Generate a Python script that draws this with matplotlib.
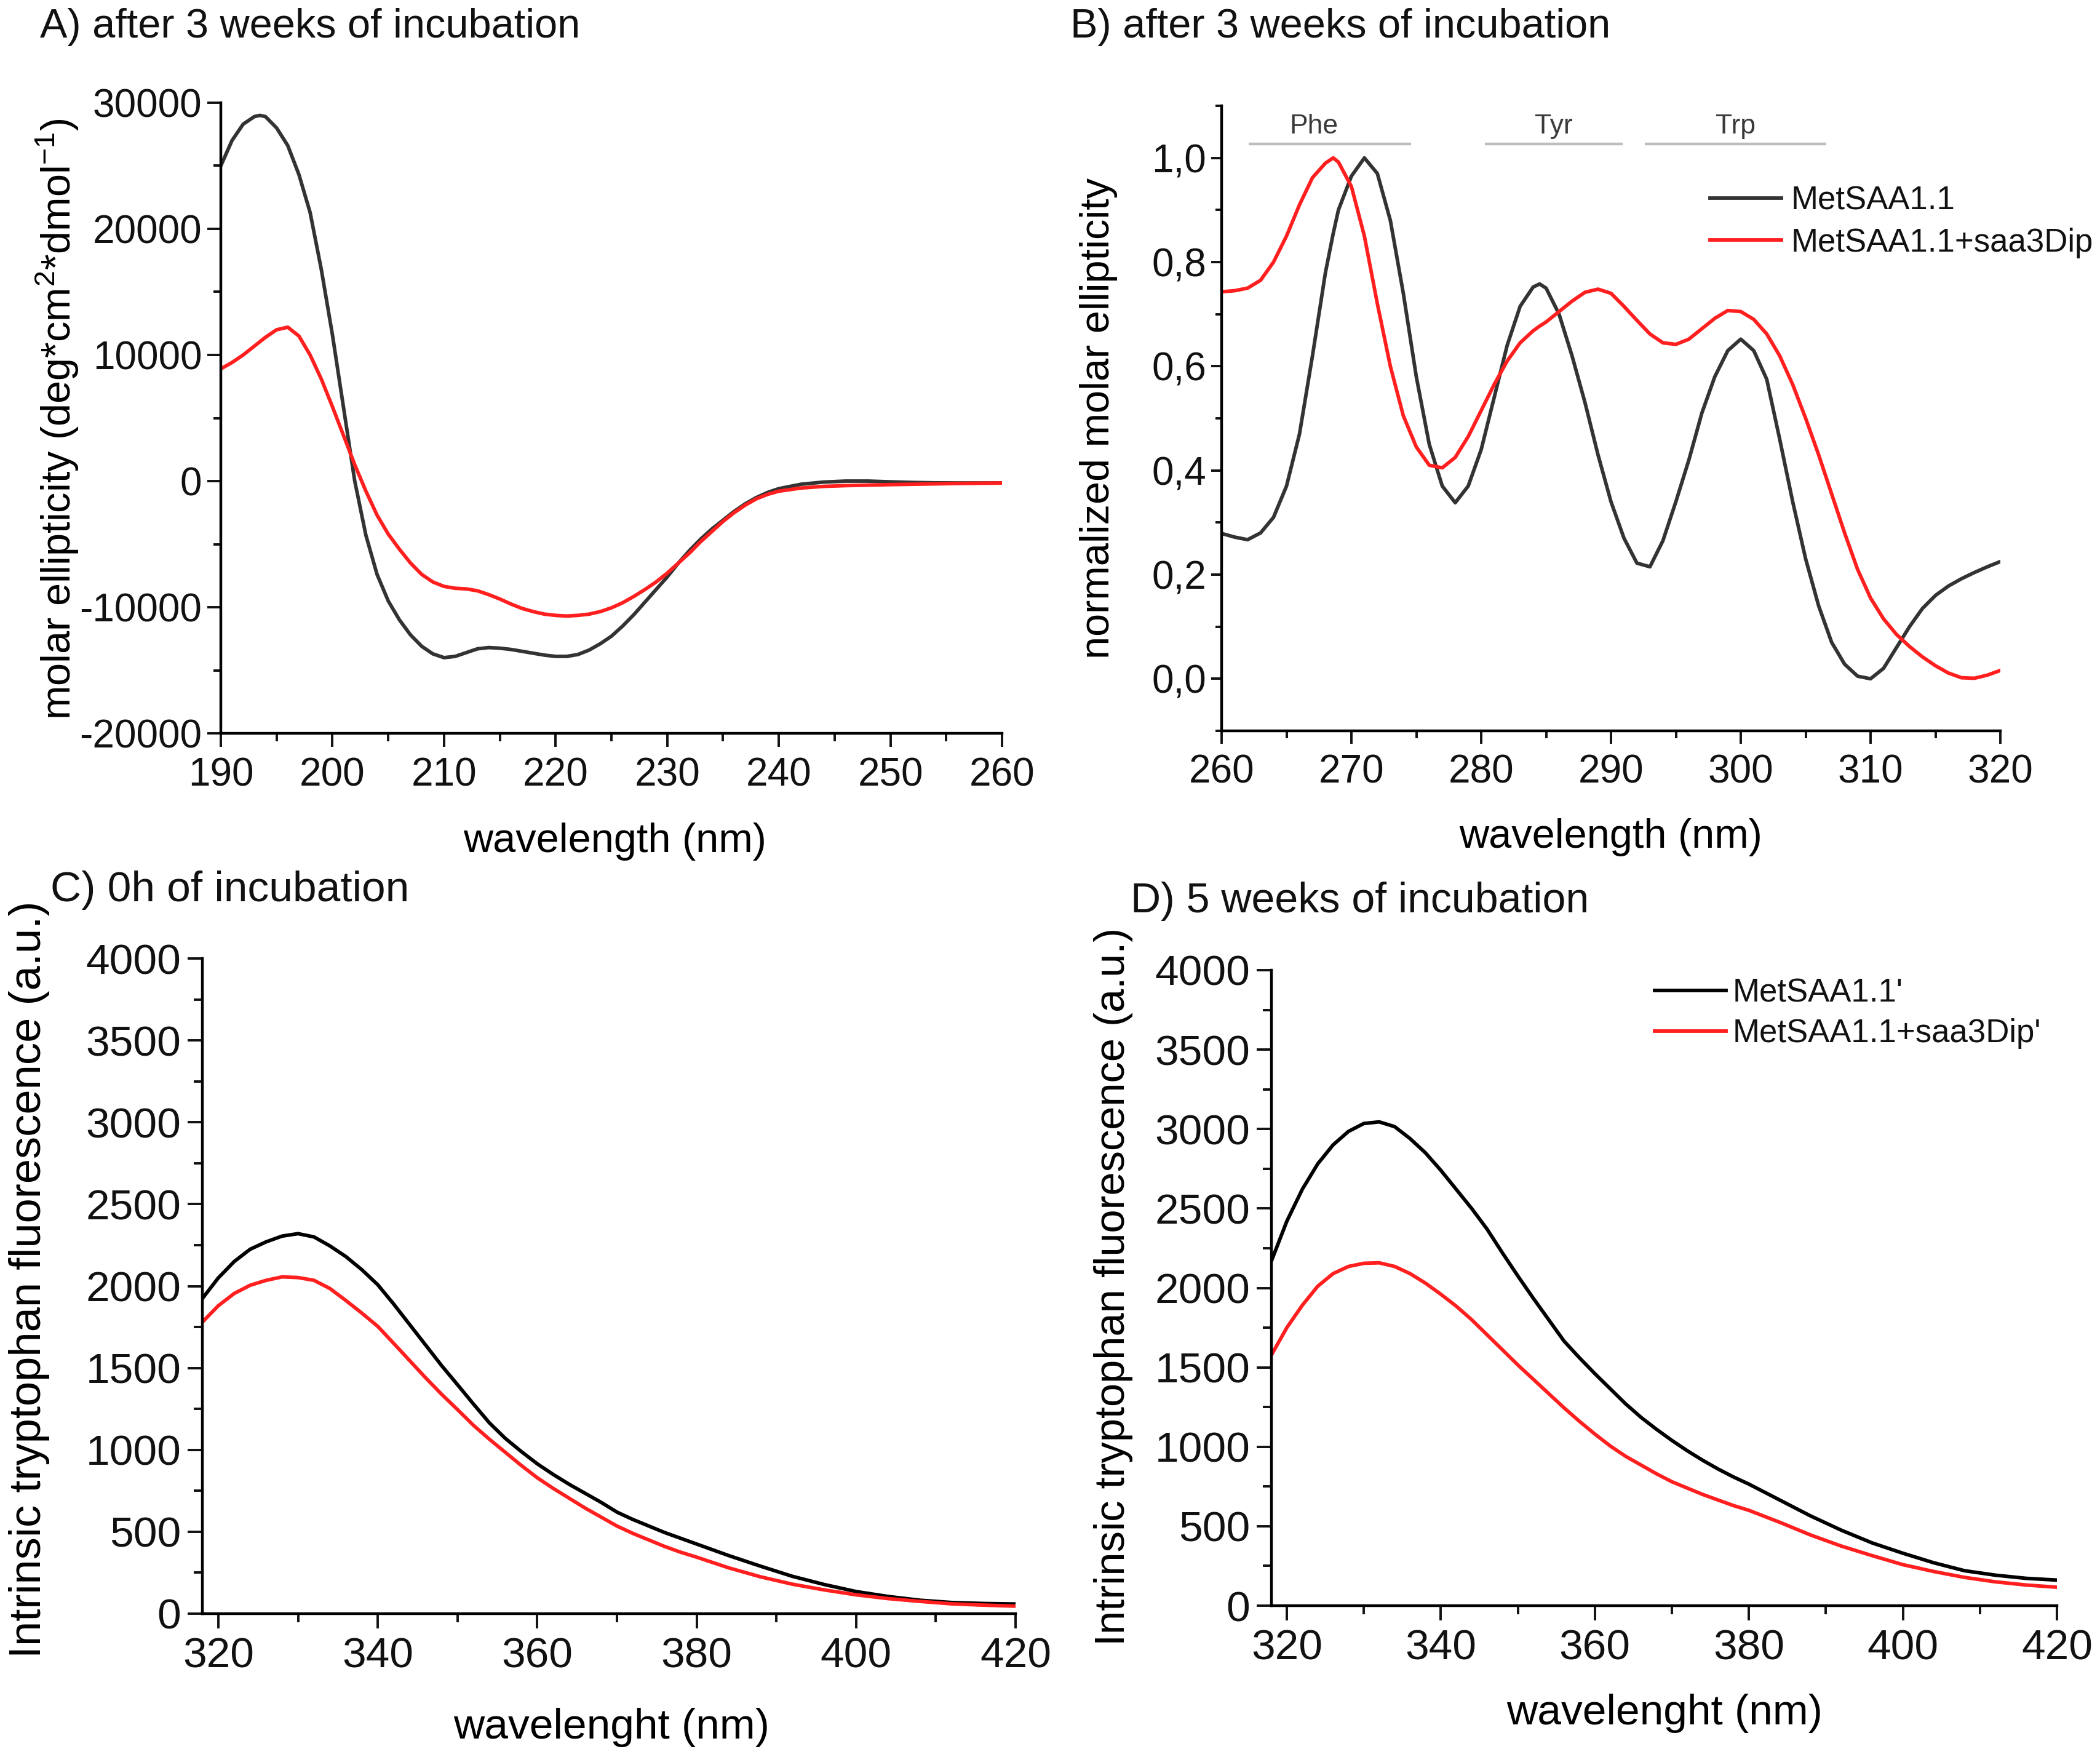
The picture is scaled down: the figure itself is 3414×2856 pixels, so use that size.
"""Four-panel CD / tryptophan fluorescence figure (MetSAA1.1 vs MetSAA1.1+saa3Dip)."""

import matplotlib

matplotlib.use("Agg")
import matplotlib.pyplot as plt
from matplotlib.ticker import FuncFormatter, MultipleLocator

# ---- panel A: far-UV CD after 3 weeks ----
A_WL = [190, 191, 192, 193, 193.5, 194, 195, 196, 197, 198, 199,
        200, 201, 202, 203, 204, 205, 206, 207, 208, 209,
        210, 211, 212, 213, 214, 215, 216, 217, 218, 219,
        220, 221, 222, 223, 224, 225, 226, 227, 228, 229,
        230, 231, 232, 233, 234, 235, 236, 237, 238, 239,
        240, 242, 244, 246, 248, 250, 252, 254, 256, 258, 260]
A_MET = [25000, 27000, 28300, 28900, 29000, 28900, 28000, 26600, 24300, 21300, 16800,
         11600, 5800, 0, -4300, -7400, -9500, -11000, -12200, -13100, -13700,
         -14000, -13900, -13600, -13300, -13200, -13250, -13350, -13500, -13650, -13800,
         -13900, -13900, -13750, -13400, -12900, -12300, -11500, -10600, -9600, -8600,
         -7600, -6500, -5500, -4600, -3800, -3100, -2400, -1800, -1300, -900,
         -600, -250, -80, 0, 0, -60, -110, -140, -150, -150, -150]
A_DIP = [8900, 9400, 10000, 10700, 11050, 11400, 12000, 12200, 11500, 10000, 8100,
         5900, 3600, 1300, -800, -2700, -4200, -5400, -6500, -7400, -8000,
         -8350, -8500, -8550, -8700, -9000, -9350, -9750, -10100, -10350, -10550,
         -10650, -10700, -10650, -10550, -10350, -10050, -9650, -9150, -8600, -8000,
         -7300, -6500, -5700, -4800, -4000, -3200, -2500, -1900, -1400, -1050,
         -800, -550, -420, -360, -320, -280, -250, -220, -190, -170, -150]

# ---- panel B: near-UV CD after 3 weeks (normalized) ----
B_WL = [260, 261, 262, 263, 264, 265, 266, 267, 268, 268.6, 269,
        270, 271, 272, 273, 274, 275, 276, 277, 278, 279,
        280, 281, 282, 283, 284, 284.5, 285, 286, 287, 288, 289,
        290, 291, 292, 293, 294, 295, 296, 297, 298, 299,
        300, 301, 302, 303, 304, 305, 306, 307, 308, 309,
        310, 311, 312, 313, 314, 315, 316, 317, 318, 319, 320]
B_MET = [0.279, 0.272, 0.267, 0.280, 0.310, 0.370, 0.470, 0.620, 0.780, 0.855, 0.900,
         0.965, 1.000, 0.970, 0.880, 0.740, 0.580, 0.450, 0.370, 0.338, 0.370,
         0.440, 0.540, 0.640, 0.715, 0.752, 0.758, 0.750, 0.700, 0.620, 0.530, 0.430,
         0.340, 0.270, 0.222, 0.215, 0.265, 0.340, 0.420, 0.510, 0.580, 0.630,
         0.652, 0.630, 0.575, 0.460, 0.340, 0.230, 0.140, 0.070, 0.028, 0.005,
         0.000, 0.020, 0.060, 0.100, 0.135, 0.160, 0.178, 0.192, 0.204, 0.215, 0.225]
B_DIP = [0.743, 0.745, 0.750, 0.765, 0.800, 0.850, 0.910, 0.962, 0.990, 1.000, 0.992,
         0.945, 0.850, 0.720, 0.600, 0.505, 0.445, 0.410, 0.405, 0.425, 0.465,
         0.515, 0.565, 0.610, 0.645, 0.668, 0.677, 0.685, 0.705, 0.725, 0.742, 0.748,
         0.740, 0.715, 0.688, 0.662, 0.645, 0.642, 0.652, 0.672, 0.692, 0.707,
         0.705, 0.690, 0.662, 0.620, 0.565, 0.500, 0.430, 0.355, 0.280, 0.210,
         0.155, 0.115, 0.085, 0.062, 0.042, 0.025, 0.011, 0.002, 0.001, 0.007, 0.016]
B_BANDS = ["Phe", "Tyr", "Trp"]
B_BAND_START = [262.1, 280.3, 292.6]
B_BAND_END = [274.6, 290.9, 306.6]
B_BAND_LABEL_X = [267.1, 285.6, 299.6]

# ---- panels C and D: intrinsic Trp fluorescence ----
F_WL = [318, 320, 322, 324, 326, 328, 330, 332, 334, 336,
        338, 340, 342, 344, 346, 348, 350, 352, 354, 356,
        358, 360, 362, 364, 366, 368, 370, 372, 374, 376,
        378, 380, 384, 388, 392, 396, 400, 404, 408, 412, 416, 420]
C_MET = [1924, 2050, 2150, 2225, 2270, 2305, 2320, 2300, 2245, 2180,
         2100, 2008, 1890, 1765, 1640, 1515, 1398, 1280, 1165, 1070,
         990, 915, 850, 790, 735, 680, 620, 575, 535, 495,
         460, 425, 355, 290, 228, 178, 135, 105, 82, 68, 62, 59]
C_DIP = [1780, 1880, 1955, 2005, 2035, 2056, 2052, 2035, 1985, 1912,
         1835, 1754, 1650, 1545, 1440, 1340, 1246, 1150, 1065, 985,
         905, 830, 765, 705, 645, 590, 535, 490, 450, 410,
         375, 345, 280, 225, 180, 145, 115, 92, 75, 60, 52, 46]
D_MET = [2170, 2420, 2620, 2780, 2900, 2985, 3035, 3045, 3015, 2940,
         2850, 2740, 2620, 2500, 2370, 2220, 2075, 1935, 1800, 1665,
         1560, 1460, 1365, 1270, 1185, 1110, 1040, 975, 915, 860,
         810, 765, 665, 565, 475, 395, 330, 270, 220, 192, 172, 161]
D_DIP = [1578, 1750, 1890, 2010, 2090, 2135, 2155, 2158, 2135, 2090,
         2030, 1960, 1885, 1800, 1705, 1610, 1515, 1425, 1335, 1245,
         1160, 1080, 1005, 940, 885, 830, 780, 740, 700, 665,
         630, 600, 525, 445, 375, 315, 258, 215, 178, 150, 130, 116]

W, H = 3414, 2856
DPI = 200
RED = "#ff1f1f"

plt.rcParams["font.family"] = ["Liberation Sans", "DejaVu Sans"]
plt.rcParams["mathtext.fontset"] = "custom"
plt.rcParams["mathtext.rm"] = "Liberation Sans"
plt.rcParams["mathtext.default"] = "regular"
plt.rcParams["axes.unicode_minus"] = False
plt.rcParams["text.color"] = "#111111"
plt.rcParams["lines.solid_joinstyle"] = "round"


def px_rect(left, top, right, bottom):
    """Pixel box (top-left origin) -> figure fraction rect."""
    return [left / W, 1 - bottom / H, (right - left) / W, (bottom - top) / H]


def fxy(x, y):
    return x / W, 1 - y / H


def style(ax, tick_fs, major_len, minor_len, pad):
    for side in ("top", "right"):
        ax.spines[side].set_visible(False)
    for side in ("left", "bottom"):
        ax.spines[side].set_linewidth(1.6)
    ax.tick_params(which="both", direction="out", width=1.4, labelsize=tick_fs,
                   pad=pad, colors="#111111")
    ax.tick_params(which="major", length=major_len)
    ax.tick_params(which="minor", length=minor_len)


def place_labels(ax, fig, xlabel, xpos, ylabel, ypos, xfs, yfs):
    ax.set_xlabel(xlabel, fontsize=xfs, va="center")
    ax.xaxis.set_label_coords(*fxy(*xpos), transform=fig.transFigure)
    ax.set_ylabel(ylabel, fontsize=yfs, va="center")
    ax.yaxis.set_label_coords(*fxy(*ypos), transform=fig.transFigure)


fig = plt.figure(figsize=(W / DPI, H / DPI), dpi=DPI)

# A
ax_a = fig.add_axes(px_rect(359, 167, 1629, 1192))
ax_a.plot(A_WL, A_MET, color="#333333", lw=2.1)
ax_a.plot(A_WL, A_DIP, color=RED, lw=2.1)
ax_a.set_xlim(190, 260)
ax_a.set_ylim(-20000, 30000)
ax_a.xaxis.set_major_locator(MultipleLocator(10))
ax_a.xaxis.set_minor_locator(MultipleLocator(5))
ax_a.yaxis.set_major_locator(MultipleLocator(10000))
ax_a.yaxis.set_minor_locator(MultipleLocator(5000))
style(ax_a, 23, 8, 4.5, 3)
ax_a.tick_params(axis="x", pad=6)
place_labels(ax_a, fig, "wavelength (nm)", (1000, 1368),
             "molar ellipticity (deg*cm$^{2}$*dmol$^{-1}$)", (93, 681), 24, 24)
fig.text(*fxy(65, 44), "A) after 3 weeks of incubation", fontsize=24,
         ha="left", va="center")

# B
ax_b = fig.add_axes(px_rect(1986, 172, 3252, 1188))
ax_b.plot(B_WL, B_MET, color="#333333", lw=2.1, label="MetSAA1.1")
ax_b.plot(B_WL, B_DIP, color=RED, lw=2.1, label="MetSAA1.1+saa3Dip")
ax_b.set_xlim(260, 320)
ax_b.set_ylim(-0.1, 1.1)
ax_b.xaxis.set_major_locator(MultipleLocator(10))
ax_b.xaxis.set_minor_locator(MultipleLocator(5))
ax_b.yaxis.set_major_locator(MultipleLocator(0.2))
ax_b.yaxis.set_minor_locator(MultipleLocator(0.1))
ax_b.yaxis.set_major_formatter(
    FuncFormatter(lambda v, _: "0,0" if abs(v) < 1e-9 else f"{v:.1f}".replace(".", ",")))
style(ax_b, 23, 6, 3.5, 3)
ax_b.tick_params(axis="x", length=7.5, pad=6)
ax_b.tick_params(axis="x", which="minor", length=4.3)
for name, x0, x1, xl in zip(B_BANDS, B_BAND_START, B_BAND_END, B_BAND_LABEL_X):
    ax_b.hlines(1.027, x0, x1, color="#bdbdbd", lw=1.6)
    ax_b.text(xl, 1.061, name, fontsize=16, color="#3a3a3a", ha="center", va="center")
ax_b.legend(loc="upper left", bbox_to_anchor=(0.627, 0.873), frameon=False,
            fontsize=19, handlelength=2.2, handletextpad=0.3, borderpad=0,
            borderaxespad=0, labelspacing=0.35)
place_labels(ax_b, fig, "wavelength (nm)", (2619, 1361),
             "normalized molar ellipticity", (1786, 680), 24, 24)
fig.text(*fxy(1740, 44), "B) after 3 weeks of incubation", fontsize=24,
         ha="left", va="center")

# C
ax_c = fig.add_axes(px_rect(329, 1558, 1651, 2623))
ax_c.plot(F_WL, C_MET, color="black", lw=2.1)
ax_c.plot(F_WL, C_DIP, color=RED, lw=2.1)
ax_c.set_xlim(318, 420)
ax_c.set_ylim(0, 4000)
ax_c.xaxis.set_major_locator(MultipleLocator(20))
ax_c.xaxis.set_minor_locator(MultipleLocator(10))
ax_c.yaxis.set_major_locator(MultipleLocator(500))
ax_c.yaxis.set_minor_locator(MultipleLocator(250))
style(ax_c, 25, 8.5, 5, 4)
ax_c.tick_params(axis="x", pad=5)
place_labels(ax_c, fig, "wavelenght (nm)", (994, 2808),
             "Intrinsic tryptophan fluorescence (a.u.)", (48, 2080), 25, 26)
fig.text(*fxy(82, 1447), "C) 0h of incubation", fontsize=25, ha="left", va="center")

# D
ax_d = fig.add_axes(px_rect(2067, 1577, 3344, 2610))
ax_d.plot(F_WL, D_MET, color="black", lw=2.1, label="MetSAA1.1'")
ax_d.plot(F_WL, D_DIP, color=RED, lw=2.1, label="MetSAA1.1+saa3Dip'")
ax_d.set_xlim(318, 420)
ax_d.set_ylim(0, 4000)
ax_d.xaxis.set_major_locator(MultipleLocator(20))
ax_d.xaxis.set_minor_locator(MultipleLocator(10))
ax_d.yaxis.set_major_locator(MultipleLocator(500))
ax_d.yaxis.set_minor_locator(MultipleLocator(250))
style(ax_d, 25, 8.5, 5, 4)
ax_d.tick_params(axis="x", pad=5)
ax_d.legend(loc="upper left", bbox_to_anchor=(0.488, 0.988), frameon=False,
            fontsize=19, handlelength=2.2, handletextpad=0.2, borderpad=0,
            borderaxespad=0, labelspacing=0.3)
place_labels(ax_d, fig, "wavelenght (nm)", (2706, 2785),
             "Intrinsic tryptophan fluorescence (a.u.)", (1810, 2091), 25, 24.7)
fig.text(*fxy(1838, 1465), "D) 5 weeks of incubation", fontsize=24.5,
         ha="left", va="center")

fig.savefig("out.png", dpi=DPI)
